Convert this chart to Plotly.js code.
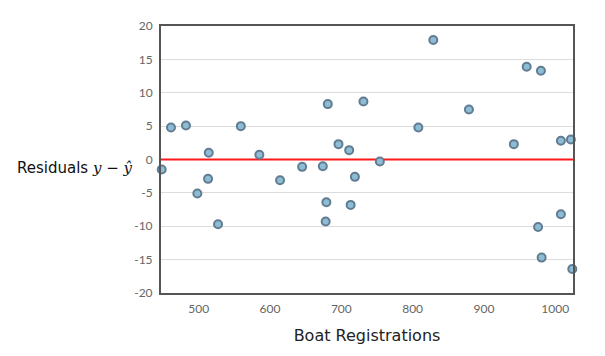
<!DOCTYPE html>
<html>
<head>
<meta charset="utf-8">
<script src="https://cdn.plot.ly/plotly-3.0.1.min.js"></script>
<style>html,body{margin:0;padding:0;background:#fff;}#chart{width:605px;height:356px;}</style>
</head>
<body>
<div id="chart"></div>
<script>
// Boat registrations (x) and residuals y - ŷ (y)
const boatRegistrations = [448, 461, 482, 514, 498, 513, 527, 559, 585, 614, 645, 674, 679, 678, 681, 696, 711, 713, 719, 731, 754, 808, 829, 879, 942, 960, 980, 1008, 1022, 976, 1008, 981, 1024];
const residuals = [-1.5, 4.8, 5.1, 1.0, -5.1, -2.9, -9.7, 5.0, 0.7, -3.1, -1.1, -1.0, -6.4, -9.3, 8.3, 2.3, 1.4, -6.8, -2.6, 8.7, -0.3, 4.8, 17.9, 7.5, 2.3, 13.9, 13.3, 2.8, 3.0, -10.1, -8.2, -14.7, -16.4];
const zeroLineX = [440, 1030];
const zeroLineY = [0, 0];
const yTickVals = [-20, -15, -10, -5, 0, 5, 10, 15, 20];
const yTickText = ['-20', '-15', '-10', '-5', '0', '5', '10', '15', '20'];
const xTickVals = [500, 600, 700, 800, 900, 1000];
const xTickText = ['500', '600', '700', '800', '900', '1000'];

const FONT = 'Lato, "DejaVu Sans", sans-serif';
const TITLE_FONT = '"DejaVu Sans", sans-serif';

const traces = [
  {
    x: zeroLineX, y: zeroLineY, mode: 'lines', type: 'scatter',
    line: {color: '#ff1a1a', width: 2}, hoverinfo: 'skip', showlegend: false
  },
  {
    x: boatRegistrations, y: residuals, mode: 'markers', type: 'scatter',
    cliponaxis: false,
    marker: {size: 8, color: '#8dbdd4', line: {color: '#627c92', width: 2}},
    showlegend: false
  }
];

const layout = {
  width: 605, height: 356,
  margin: {l: 161, r: 32, t: 26, b: 63},
  paper_bgcolor: '#fff', plot_bgcolor: '#fff',
  font: {family: FONT, color: '#666', size: 12},
  showlegend: false,
  xaxis: {
    range: [447, 1025],
    tickvals: xTickVals, ticktext: xTickText,
    showgrid: false, zeroline: false,
    showline: true, linecolor: '#555', linewidth: 2, mirror: true,
    ticks: '', ticklabelstandoff: 4,
    tickfont: {family: FONT, color: '#666', size: 12},
    title: {text: 'Boat Registrations', font: {family: TITLE_FONT, size: 16, color: '#222'}, standoff: 14}
  },
  yaxis: {
    range: [-20, 20],
    tickvals: yTickVals, ticktext: yTickText,
    showgrid: true, gridcolor: '#dcdcdc', gridwidth: 1, zeroline: false,
    showline: true, linecolor: '#555', linewidth: 2, mirror: true,
    ticks: '', ticklabelstandoff: 4,
    tickfont: {family: FONT, color: '#666', size: 12}
  },
  annotations: [{
    xref: 'paper', yref: 'paper', x: -0.062, y: 0.468,
    xanchor: 'right', yanchor: 'middle', showarrow: false,
    text: 'Residuals <span style="font-family:\'DejaVu Serif\',serif"><i>y</i> − <i>ŷ</i></span>',
    font: {family: TITLE_FONT, size: 15, color: '#111'}
  }]
};

Plotly.newPlot('chart', traces, layout, {displayModeBar: false, staticPlot: true});
</script>
</body>
</html>
